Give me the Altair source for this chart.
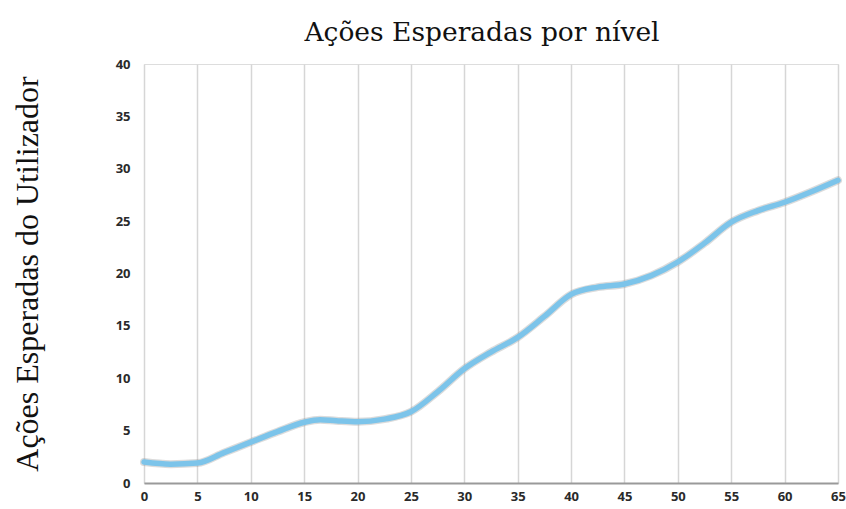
import altair as alt
import pandas as pd

# values
nivel = [0, 2.5, 5, 7.5, 10, 12.5, 15, 16.5, 18, 20, 22.5, 25, 27.5, 30, 32.5, 35, 37.5, 40, 42.5, 45, 47.5, 50, 52.5, 55, 57.5, 60, 62.5, 65]
acoes = [2.0, 1.8, 1.9, 2.9, 3.9, 4.9, 5.8, 6.05, 5.95, 5.85, 6.1, 6.8, 8.7, 10.9, 12.5, 13.9, 15.9, 18.0, 18.7, 19.0, 19.8, 21.1, 22.9, 24.9, 26.0, 26.8, 27.8, 28.9]
x_ticks = list(range(0, 70, 5))
y_ticks = list(range(0, 45, 5))

df = pd.DataFrame({"nivel": nivel, "acoes": acoes})

x_enc = alt.X("nivel:Q", scale=alt.Scale(domain=[0, 65], nice=False, zero=False),
              axis=alt.Axis(values=x_ticks, title=None, grid=True, gridColor="#d6d6d6", gridWidth=1.5,
                            ticks=False, domain=True, domainColor="#9a9a9a", domainWidth=2,
                            labelFont="Open Sans", labelFontWeight="bold", labelFontSize=13,
                            labelColor="#2a2a2a", labelPadding=7, labelFlush=False))
y_enc = alt.Y("acoes:Q", scale=alt.Scale(domain=[0, 40], nice=False),
              axis=alt.Axis(values=y_ticks, title="Ações Esperadas do Utilizador", grid=False,
                            ticks=False, domain=False,
                            labelFont="Open Sans", labelFontWeight="bold", labelFontSize=13,
                            labelColor="#2a2a2a", labelPadding=14,
                            titleFont="Liberation Serif", titleFontSize=32, titleFontWeight="normal",
                            titleColor="#111111", titleX=-117, titleBaseline="middle"))

shadow = alt.Chart(df).mark_line(interpolate="monotone", color="#999999", strokeWidth=8,
                                 opacity=0.35, strokeCap="round").encode(x=x_enc, y=y_enc)
line = alt.Chart(df).mark_line(interpolate="monotone", color="#7cc4ea", strokeWidth=5.5,
                               strokeCap="round").encode(x=x_enc, y=y_enc)

chart = (shadow + line).properties(
    width=694, height=419,
    title=alt.TitleParams("Ações Esperadas por nível", font="DejaVu Serif", fontSize=26.5,
                          fontWeight="normal", color="#111111", baseline="alphabetic", dy=13, dx=-9),
    autosize=alt.AutoSizeParams(type="none"),
    padding={"left": 144, "top": 64, "right": 8, "bottom": 26},
).configure_view(stroke=None).configure(background="white")

chart.save("out.html", embed_options={"renderer": "svg", "actions": False})
